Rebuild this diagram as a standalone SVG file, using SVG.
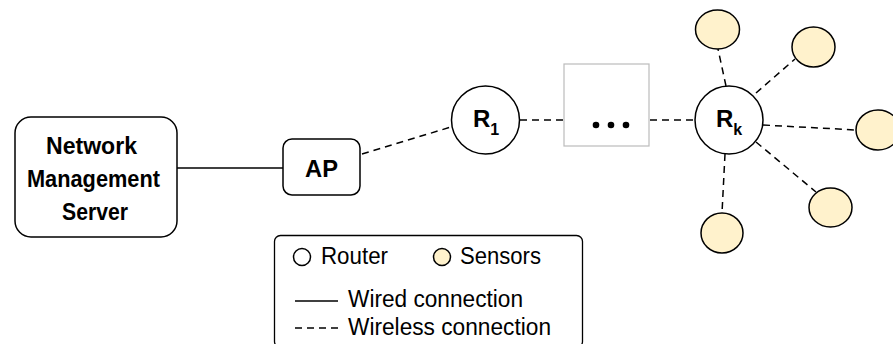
<svg xmlns="http://www.w3.org/2000/svg" width="893" height="344" viewBox="0 0 893 344">
<style>
.box{fill:#fff;stroke:#000;stroke-width:1.5}
.router{fill:#fff;stroke:#000;stroke-width:1.5}
.sensor{fill:#FFF2CC;stroke:#000;stroke-width:1.5}
.wired{stroke:#000;stroke-width:1.5;fill:none}
.wireless{stroke:#000;stroke-width:1.5;fill:none;stroke-dasharray:7 5}
.bt{font-family:"Liberation Sans",Arial,sans-serif;font-weight:bold;font-size:24px;fill:#000}
.lt{font-family:"Liberation Sans",Arial,sans-serif;font-size:23px;fill:#000}
</style>
<rect width="893" height="344" fill="#fff"/>
<g id="connectors">
<line class="wired" x1="177" y1="168" x2="283" y2="168"/>
<line class="wireless" x1="362" y1="154" x2="451" y2="127"/>
<line class="wireless" x1="520" y1="120" x2="564" y2="120"/>
<line class="wireless" x1="650" y1="120" x2="695" y2="120"/>
<line class="wireless" x1="726" y1="86" x2="718" y2="49"/>
<line class="wireless" x1="756" y1="93" x2="795" y2="59"/>
<line class="wireless" x1="763" y1="125" x2="856" y2="130"/>
<line class="wireless" x1="756" y1="142" x2="816" y2="192"/>
<line class="wireless" x1="725" y1="154" x2="722" y2="213"/>
</g>
<g id="server">
<rect class="box" x="15" y="117" width="162" height="120" rx="16"/>
<text class="bt" x="46" y="154" textLength="91" lengthAdjust="spacingAndGlyphs">Network</text>
<text class="bt" x="27" y="187" textLength="133" lengthAdjust="spacingAndGlyphs">Management</text>
<text class="bt" x="62" y="220" textLength="66" lengthAdjust="spacingAndGlyphs">Server</text>
</g>
<g id="ap">
<rect class="box" x="283" y="139" width="77" height="56" rx="9"/>
<text class="bt" x="305" y="177" textLength="33" lengthAdjust="spacingAndGlyphs">AP</text>
</g>
<g id="r1">
<circle class="router" cx="485.5" cy="120" r="34"/>
<text class="bt" x="473" y="127">R<tspan font-size="16" dy="8">1</tspan></text>
</g>
<g id="ellipsis">
<rect x="564" y="64" width="85" height="82" fill="#fff" stroke="#bbb" stroke-width="1.2"/>
<circle cx="596" cy="125" r="3.3" fill="#000"/>
<circle cx="611" cy="125" r="3.3" fill="#000"/>
<circle cx="626" cy="125" r="3.3" fill="#000"/>
</g>
<g id="rk">
<circle class="router" cx="729" cy="120" r="34"/>
<text class="bt" x="716" y="127">R<tspan font-size="16" dy="8">k</tspan></text>
</g>
<g id="sensor1"><ellipse class="sensor" cx="717.5" cy="29.5" rx="22" ry="19.5"/></g>
<g id="sensor2"><ellipse class="sensor" cx="813.5" cy="47" rx="21.5" ry="20"/></g>
<g id="sensor3"><ellipse class="sensor" cx="878" cy="130" rx="22" ry="20"/></g>
<g id="sensor4"><ellipse class="sensor" cx="830.5" cy="207.5" rx="21.5" ry="19.5"/></g>
<g id="sensor5"><ellipse class="sensor" cx="722" cy="233" rx="21" ry="20"/></g>
<g id="legend">
<rect x="274.5" y="235.5" width="308" height="112" rx="6" fill="#fff" stroke="#000" stroke-width="1.3"/>
<circle class="router" cx="302" cy="257" r="8.5"/>
<text class="lt" x="321" y="264" textLength="67" lengthAdjust="spacingAndGlyphs">Router</text>
<circle class="sensor" cx="442" cy="257" r="8.5"/>
<text class="lt" x="460" y="264" textLength="81" lengthAdjust="spacingAndGlyphs">Sensors</text>
<line class="wired" x1="295" y1="301" x2="338" y2="301"/>
<text class="lt" x="348" y="307" textLength="175" lengthAdjust="spacingAndGlyphs">Wired connection</text>
<line class="wireless" x1="295" y1="328" x2="338" y2="328" style="stroke-dasharray:7 5"/>
<text class="lt" x="348" y="335" textLength="203" lengthAdjust="spacingAndGlyphs">Wireless connection</text>
</g>
</svg>
